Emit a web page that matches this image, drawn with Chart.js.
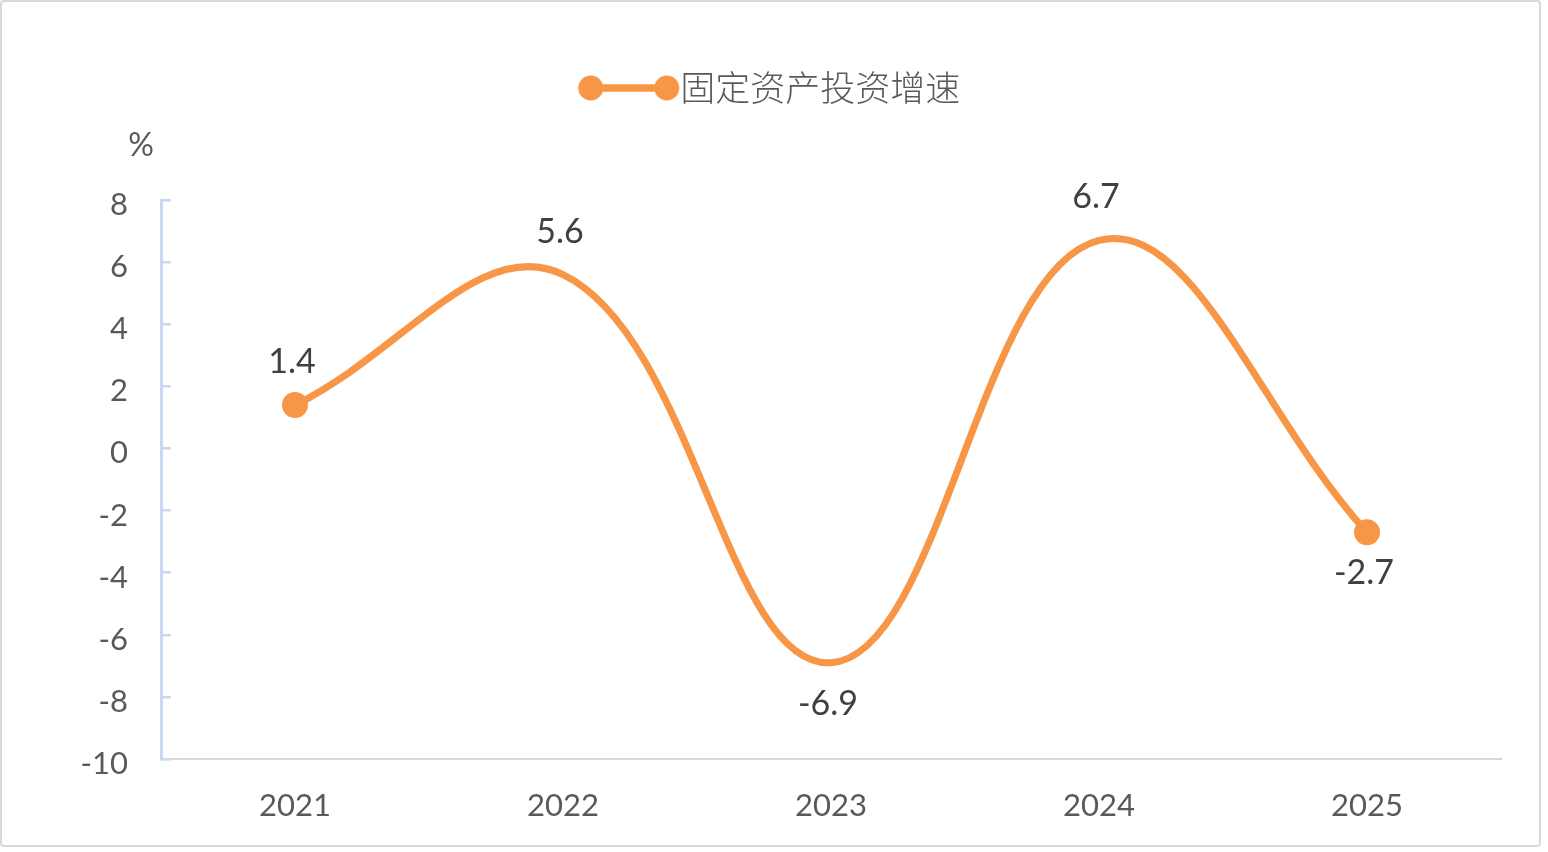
<!DOCTYPE html>
<html>
<head>
<meta charset="utf-8">
<title>固定资产投资增速</title>
<script src="https://cdn.jsdelivr.net/npm/chart.js@4.4.1/dist/chart.umd.min.js"></script>
<style>
    html, body { margin: 0; padding: 0; background: #ffffff; }
    .chart-box {
        position: absolute; left: 0; top: 0;
        width: 1537px; height: 843px;
        border: 2px solid #d9d9d9; border-radius: 4px;
        background: #ffffff;
    }
</style>
</head>
<body>
<div class="chart-box"><canvas id="investchart"></canvas></div>
<script>
"use strict";

/* data */
var years = ['2021', '2022', '2023', '2024', '2025'];
var growthRates = [1.4, 5.6, -6.9, 6.7, -2.7];
var seriesName = '固定资产投资增速';
var yTicks = [8, 6, 4, 2, 0, -2, -4, -6, -8, -10];
var unitLabel = '%';

var orange = '#f79646';
var textGray = '#595959';
var labelGray = '#404040';
var latin = 'Lato, "Noto Sans", sans-serif';

/* legend symbol: line with a dot on each end */
var legendSymbol = document.createElement('canvas');
legendSymbol.width = 156;
legendSymbol.height = 30;
var lctx = legendSymbol.getContext('2d');
lctx.strokeStyle = orange;
lctx.fillStyle = orange;
lctx.lineWidth = 7.5;
lctx.beginPath();
lctx.moveTo(66, 15);
lctx.lineTo(142, 15);
lctx.stroke();
[66, 142].forEach(function (cx) {
    lctx.beginPath();
    lctx.arc(cx, 15, 12.5, 0, Math.PI * 2);
    lctx.fill();
});

/* value labels above / below points */
var valueLabels = {
    id: 'valueLabels',
    afterDatasetsDraw: function (chart) {
        var ctx = chart.ctx;
        var meta = chart.getDatasetMeta(0);
        ctx.save();
        ctx.font = '34px ' + latin;
        ctx.fillStyle = labelGray;
        ctx.textAlign = 'center';
        ctx.textBaseline = 'middle';
        meta.data.forEach(function (pt, i) {
            var v = growthRates[i];
            var dy = v >= 0 ? -43 : 41;
            ctx.fillText(v.toFixed(1), pt.x - 3, pt.y + dy);
        });
        ctx.restore();
    }
};

/* unit text over the y axis */
var unitText = {
    id: 'unitText',
    afterDraw: function (chart) {
        var ctx = chart.ctx;
        var area = chart.chartArea;
        ctx.save();
        ctx.font = '32px ' + latin;
        ctx.fillStyle = textGray;
        ctx.textAlign = 'center';
        ctx.textBaseline = 'middle';
        ctx.fillText(unitLabel, area.left - 20, area.top - 54);
        ctx.restore();
    }
};

/* extra room under the legend */
var legendGap = {
    id: 'legendGap',
    afterInit: function (chart) {
        var fit = chart.legend.fit;
        chart.legend.fit = function () {
            fit.call(this);
            this.height += 84.5;
        };
    }
};

var ctx = document.getElementById('investchart').getContext('2d');
var investChart = new Chart(ctx, {
    type: 'line',
    data: {
        labels: years,
        datasets: [{
            label: seriesName,
            data: growthRates,
            borderColor: orange,
            backgroundColor: orange,
            borderWidth: 7,
            borderJoinStyle: 'round',
            tension: 0.4,
            fill: false,
            pointRadius: [13, 0, 0, 0, 13],
            pointHoverRadius: [13, 0, 0, 0, 13],
            pointBackgroundColor: orange,
            pointBorderWidth: 0
        }]
    },
    options: {
        responsive: true,
        maintainAspectRatio: false,
        animation: false,
        events: [],
        layout: {
            padding: { top: 58.5, right: 38, bottom: 0, left: 0 }
        },
        plugins: {
            tooltip: { enabled: false },
            legend: {
                display: true,
                position: 'top',
                labels: {
                    usePointStyle: true,
                    pointStyleWidth: 120,
                    padding: 10,
                    color: textGray,
                    font: { family: '"Noto Sans CJK SC", sans-serif', size: 35, weight: 300 },
                    generateLabels: function () {
                        return [{
                            text: seriesName,
                            fontColor: textGray,
                            pointStyle: legendSymbol,
                            datasetIndex: 0,
                            hidden: false,
                            lineWidth: 0
                        }];
                    }
                }
            }
        },
        scales: {
            x: {
                type: 'category',
                offset: true,
                grid: { display: false, drawTicks: false, drawOnChartArea: false },
                border: { display: true, color: '#d9d9d9', width: 2 },
                ticks: {
                    color: textGray,
                    padding: 28,
                    font: { family: latin, size: 31 }
                },
                afterFit: function (scale) { scale.height = 86; }
            },
            y: {
                min: -10,
                max: 8,
                afterBuildTicks: function (scale) {
                    scale.ticks = yTicks.map(function (v) { return { value: v }; });
                },
                grid: {
                    display: true,
                    drawOnChartArea: false,
                    drawTicks: true,
                    tickLength: -10,
                    color: '#c6d9f1',
                    lineWidth: 2.5
                },
                border: { display: true, color: '#c6d9f1', width: 3 },
                ticks: {
                    color: textGray,
                    padding: 43,
                    labelOffset: 5,
                    font: { family: latin, size: 31 }
                },
                afterFit: function (scale) { scale.width = 159; }
            }
        }
    },
    plugins: [valueLabels, unitText, legendGap]
});
</script>
</body>
</html>
